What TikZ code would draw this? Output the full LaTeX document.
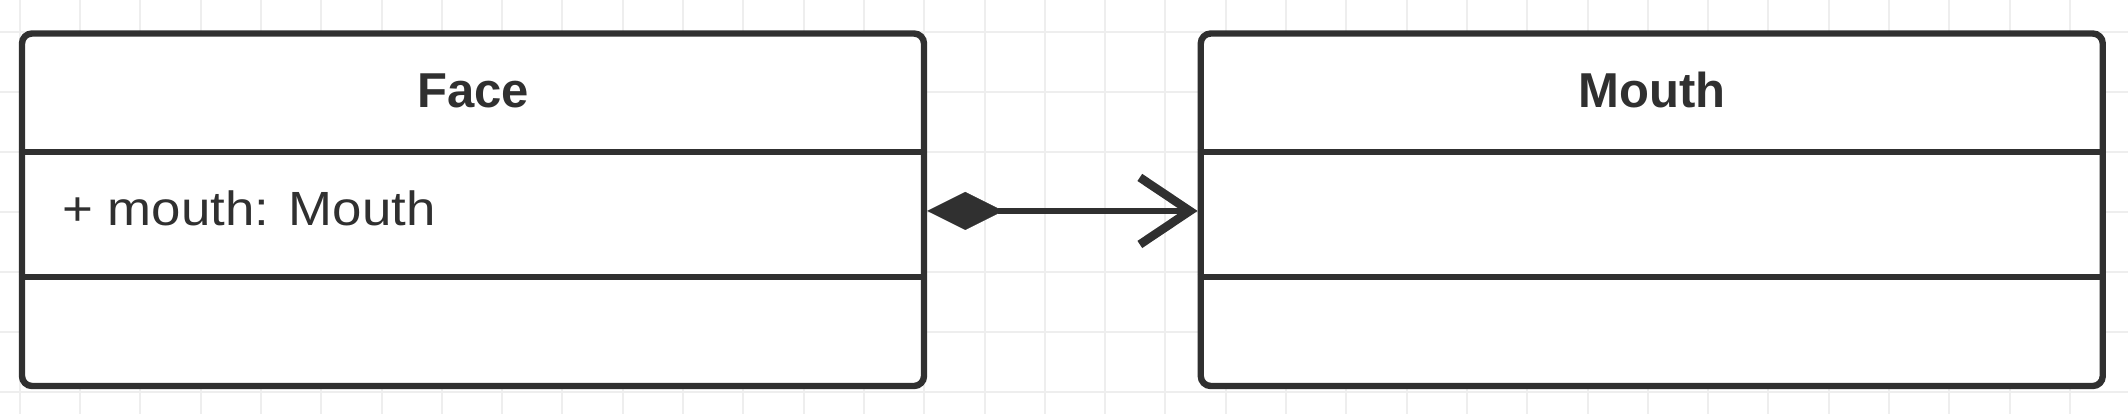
\documentclass[tikz,border=0pt]{standalone}
\usepackage{fontspec}
\setmainfont{Liberation Sans}
\newfontfamily\attrfont[FakeStretch=1.1]{Liberation Sans}
\usetikzlibrary{arrows.meta}
\definecolor{ink}{HTML}{303030}
\definecolor{gridc}{HTML}{EEEEEE}
\tikzset{
  gridline/.style={draw=gridc, line width=1pt},
  classbox/.style={draw=ink, fill=white, line width=3.2pt, rounded corners=5pt,
    rectangle, minimum width=451pt, minimum height=176.25pt, inner sep=0pt},
  divider/.style={draw=ink, line width=3.2pt},
  titletext/.style={text=ink, inner sep=0pt, anchor=base,
    font=\bfseries\fontsize{24.5}{29}\selectfont},
  attrtext/.style={text=ink, inner sep=0pt, anchor=base west,
    font=\attrfont\fontsize{24}{29}\selectfont},
  composition/.style={draw=ink, line width=2.8pt,
    {Diamond[length=38pt,width=19pt,line width=0.1pt]}-{Straight Barb[length=25pt,width=33.5pt,line width=4.3pt,sharp]}}
}
\begin{document}
\begin{tikzpicture}[x=0.5pt,y=-0.5pt]
\useasboundingbox (0,0) rectangle (2128,414);
\fill[white] (0,0) rectangle (2128,414);
\begin{scope}
  \clip (0,0) rectangle (2128,414);
  \foreach \k in {0,...,35} \draw[gridline] ({19.7+60.3*\k},0) -- ({19.7+60.3*\k},414);
  \foreach \k in {0,...,6} \draw[gridline] (0,{31.5+60.1*\k}) -- (2128,{31.5+60.1*\k});
\end{scope}

% class boxes
\node[classbox] (face) at (473,209.75) {};
\node[classbox] (mouth) at (1651.75,209.75) {};

% section dividers
\coordinate (d1) at (0,152);
\coordinate (d2) at (0,277);
\draw[divider] (face.west |- d1) -- (face.east |- d1);
\draw[divider] (face.west |- d2) -- (face.east |- d2);
\draw[divider] (mouth.west |- d1) -- (mouth.east |- d1);
\draw[divider] (mouth.west |- d2) -- (mouth.east |- d2);

% texts
\node[titletext] (facetitle) at (473,107) {Face};
\node[titletext] (mouthtitle) at (1651.75,107) {Mouth};
\node[attrtext] (faceattr) at (62,225) {+ mouth: Mouth};

% composition connector
\draw[composition] ([yshift=-0.6pt]face.east) -- ([yshift=-0.6pt]mouth.west);
\end{tikzpicture}
\end{document}
